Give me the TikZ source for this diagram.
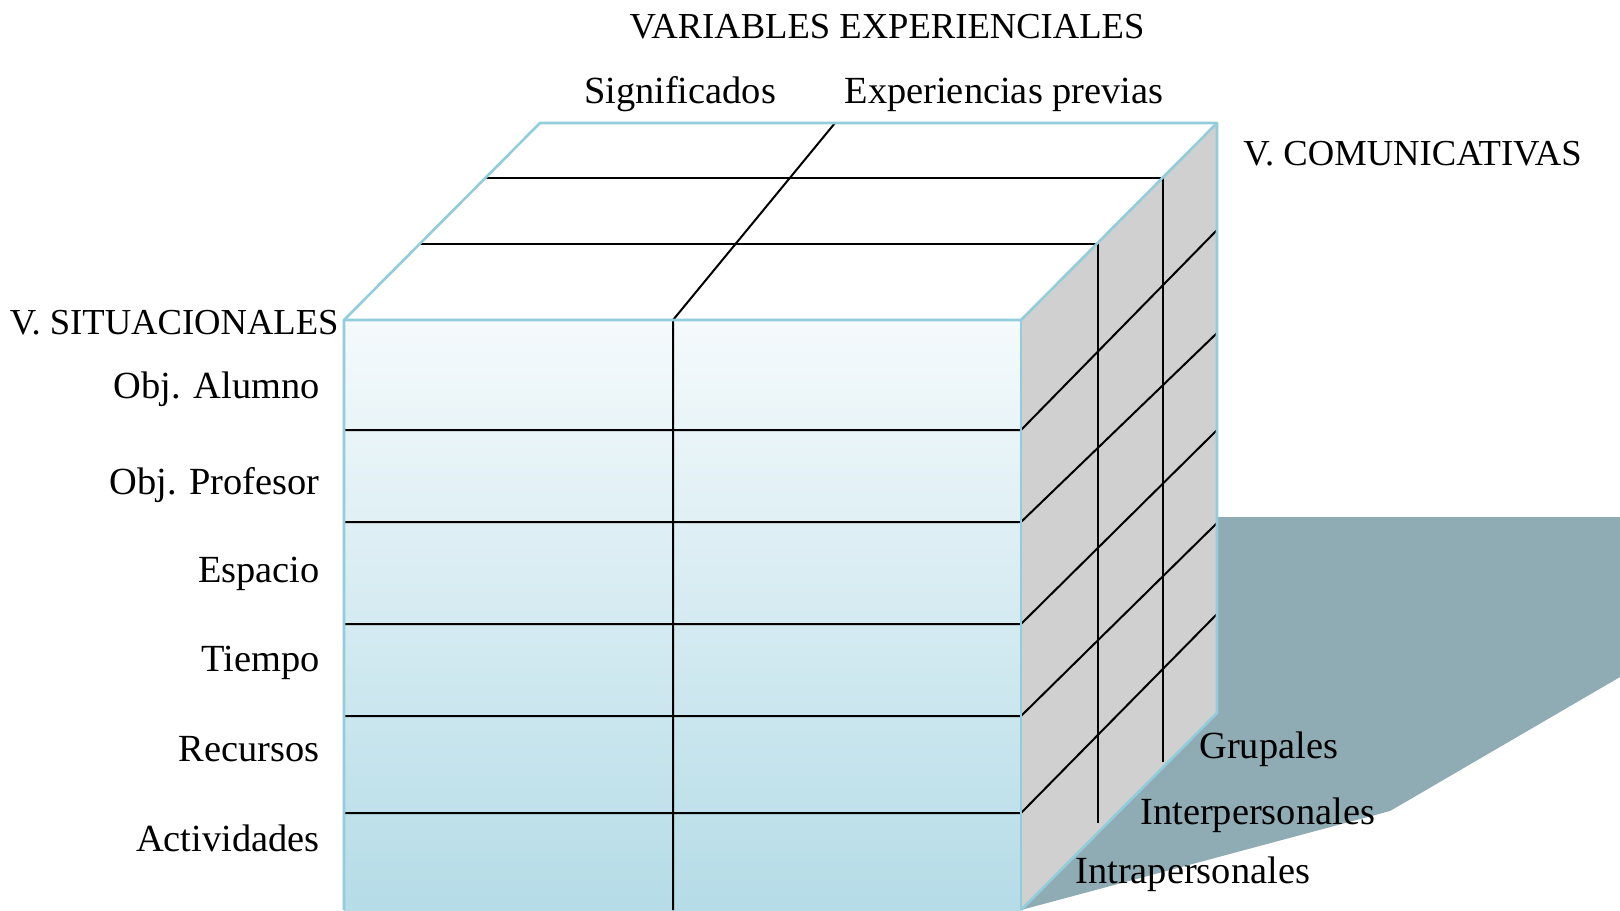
\documentclass[tikz,border=0pt]{standalone}
\usepackage{fontspec}
\setmainfont{Liberation Serif}
\definecolor{frontTop}{HTML}{F5FAFC}
\definecolor{frontBot}{HTML}{B5DCE7}
\definecolor{edgeBlue}{HTML}{92CDDC}
\definecolor{sideGray}{HTML}{D0D0D0}
\definecolor{shadowC}{HTML}{8FABB3}
\tikzset{
  capslbl/.style={inner sep=0pt, font=\fontsize{18.3pt}{20pt}\selectfont},
  lbl/.style={inner sep=0pt, font=\fontsize{19.2pt}{22pt}\selectfont},
  grid/.style={black, line width=1pt},
  rim/.style={edgeBlue, line width=1.3pt, line join=round},
}
\begin{document}
\begin{tikzpicture}[x=0.5pt, y=-0.5pt]
\useasboundingbox (0,0) rectangle (1620,910);
% corners of the cube
\coordinate (FTL) at (344,320);
\coordinate (FTR) at (1021,320);
\coordinate (FBL) at (344,910);
\coordinate (FBR) at (1021,910);
\coordinate (BTL) at (540,123);
\coordinate (BTR) at (1217,123);
\coordinate (BBR) at (1217,713);
% shadow
\fill[shadowC] (1217,517) -- (1620,517) -- (1620,677) -- (1390,811) -- (FBR) -- (BBR) -- cycle;
% faces
\fill[sideGray] (FTR) -- (BTR) -- (BBR) -- (FBR) -- cycle;
\shade[top color=frontTop, bottom color=frontBot] (FTL) rectangle (FBR);
\fill[white] (FTL) -- (BTL) -- (BTR) -- (FTR) -- cycle;
% grid on top face
\draw[grid] (485,178) -- (1163,178) -- (1163,762);
\draw[grid] (420,244) -- (1098,244) -- (1098,823);
\draw[grid] (835,123) -- (673,320) -- (673,910);
% rows on front and right faces
\foreach \yf/\yb in {430/230, 522/333, 624/430, 716/523, 813/614}{
  \draw[grid] (344,\yf) -- (1021,\yf) -- (1217,\yb);
}
% rims
\draw[rim] (FBL) -- (FTL) -- (BTL) -- (BTR) -- (BBR) -- (FBR);
\draw[rim] (FTL) -- (FTR) -- (BTR);
\draw[rim] (FTR) -- (FBR);
% labels
\node[capslbl, anchor=base] (varexp) at (887,39) {VARIABLES EXPERIENCIALES};
\node[lbl, anchor=base] (sig) at (680,103) {Significados};
\node[lbl, anchor=base] (expp) at (1004,103) {Experiencias previas};
\node[capslbl, anchor=base west] (vcom) at (1243,165) {V. COMUNICATIVAS};
\node[capslbl, anchor=base east] (vsit) at (339,334) {V. SITUACIONALES};
\node[lbl, anchor=base east] (alumno) at (320,398) {Obj. Alumno};
\node[lbl, anchor=base east] (profesor) at (320,494) {Obj. Profesor};
\node[lbl, anchor=base east] (espacio) at (320,582) {Espacio};
\node[lbl, anchor=base east] (tiempo) at (320,671) {Tiempo};
\node[lbl, anchor=base east] (recursos) at (320,761) {Recursos};
\node[lbl, anchor=base east] (activ) at (320,851) {Actividades};
\node[lbl, anchor=base west] (grup) at (1199,758) {Grupales};
\node[lbl, anchor=base west] (inter) at (1140,824) {Interpersonales};
\node[lbl, anchor=base west] (intra) at (1075,883) {Intrapersonales};
\end{tikzpicture}
\end{document}
